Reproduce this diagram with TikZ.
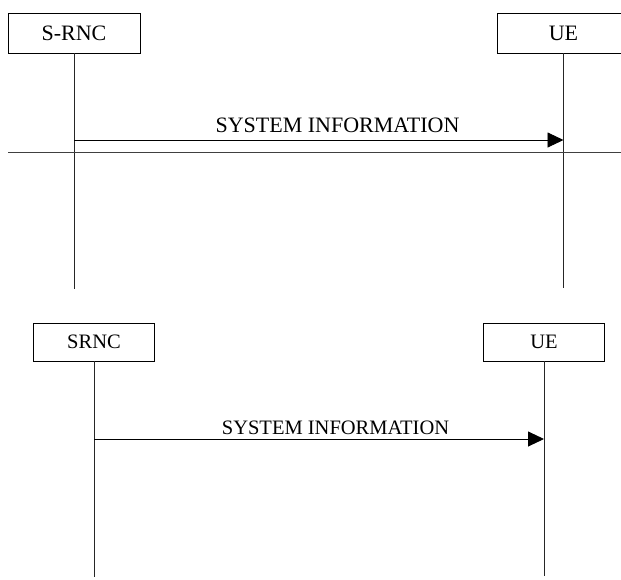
\documentclass[tikz,border=0pt]{standalone}
\usepackage{fontspec}
\setmainfont{Liberation Serif}
\usetikzlibrary{arrows.meta}
\begin{document}
\begin{tikzpicture}[x=1pt,y=-1pt,
  entity/.style={draw=black, line width=0.9pt, fill=white, inner sep=0pt, anchor=center},
  topfont/.style={font=\fontsize{22}{26}\selectfont},
  botfont/.style={font=\fontsize{20.5}{24}\selectfont},
  lifeline/.style={draw=black!85, line width=0.9pt},
  msg/.style={draw=black, line width=0.9pt, -{Triangle[length=16pt,width=15pt]}},
  sep/.style={draw=black!75, line width=0.8pt}]
\useasboundingbox (0,0) rectangle (621,579);
\clip (0,0) rectangle (621,579);
% top diagram
\node[entity, topfont, minimum width=132pt, minimum height=40pt] (srnc1) at (74,33) {S-RNC};
\node[entity, topfont, minimum width=132pt, minimum height=40pt] (ue1) at (563.5,33) {UE};
\coordinate (srnc1end) at (74,289);
\coordinate (ue1end) at (563.5,288);
\draw[lifeline] (srnc1.south) -- (srnc1end);
\draw[lifeline] (ue1.south) -- (ue1end);
\coordinate (m1s) at (74,140);
\coordinate (m1e) at (563.5,140);
\draw[msg] (m1s) -- (m1e);
\node[topfont, anchor=base, inner sep=0pt] (lab1) at (337.5,132) {SYSTEM INFORMATION};
\coordinate (sepl) at (8,152);
\coordinate (sepr) at (621,152);
\draw[sep] (sepl) -- (sepr);
% bottom diagram
\node[entity, botfont, minimum width=121pt, minimum height=38pt] (srnc2) at (94,342) {SRNC};
\node[entity, botfont, minimum width=121pt, minimum height=38pt] (ue2) at (544,342) {UE};
\coordinate (srnc2end) at (94,577);
\coordinate (ue2end) at (544,576);
\draw[lifeline] (srnc2.south) -- (srnc2end);
\draw[lifeline] (ue2.south) -- (ue2end);
\coordinate (m2s) at (94,439);
\coordinate (m2e) at (544,439);
\draw[msg] (m2s) -- (m2e);
\node[botfont, anchor=base, inner sep=0pt] (lab2) at (335.5,434) {SYSTEM INFORMATION};
\end{tikzpicture}
\end{document}
